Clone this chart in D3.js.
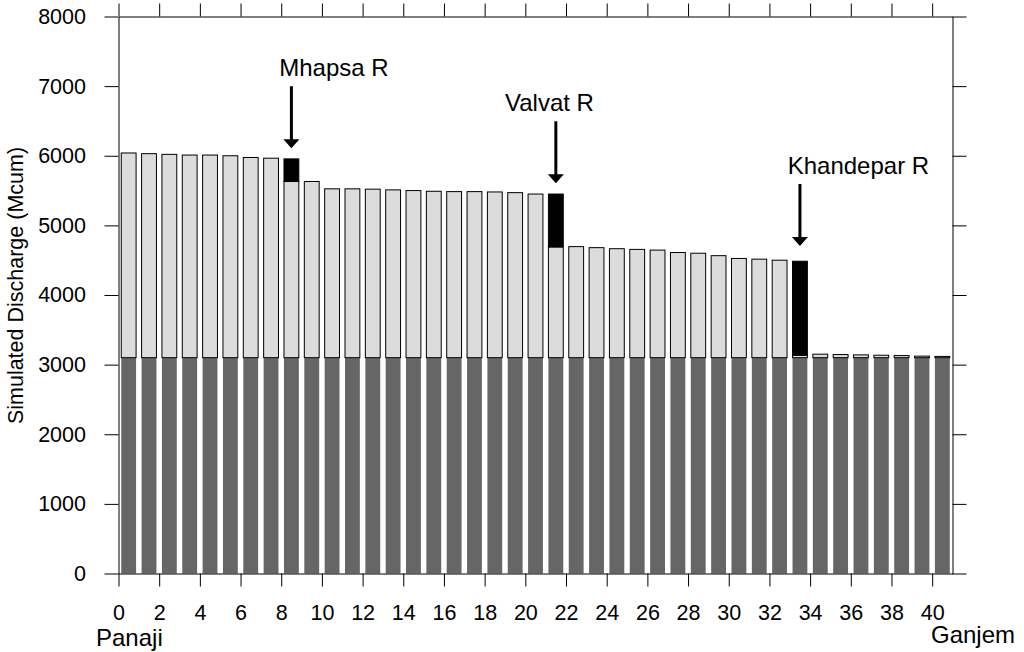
<!DOCTYPE html>
<html>
<head>
<meta charset="utf-8">
<script src="https://cdn.jsdelivr.net/npm/d3@7"></script>
<style>
  html, body { margin: 0; padding: 0; background: #fff; }
  svg { display: block; }
  text { font-family: "Liberation Sans", Arial, Helvetica, sans-serif; fill: #000; }
</style>
</head>
<body>
<svg id="chart" width="1024" height="652"></svg>
<script>
// Stations along the estuary, from Panaji (0) to Ganjem (40)
const stations = [0, 1, 2, 3, 4, 5, 6, 7, 8, 9, 10, 11, 12, 13, 14, 15, 16, 17, 18, 19, 20,
                  21, 22, 23, 24, 25, 26, 27, 28, 29, 30, 31, 32, 33, 34, 35, 36, 37, 38, 39, 40];

// Base discharge at every station (Mcum)
const baseFlow = [3100, 3100, 3100, 3100, 3100, 3100, 3100, 3100, 3100, 3100, 3100,
                  3100, 3100, 3100, 3100, 3100, 3100, 3100, 3100, 3100, 3100,
                  3100, 3100, 3100, 3100, 3100, 3100, 3100, 3100, 3100, 3100,
                  3100, 3100, 3100, 3100, 3100, 3100, 3100, 3100, 3100, 3100];

// Simulated discharge along the main stem (Mcum)
const mainFlow = [6040, 6030, 6020, 6010, 6010, 6000, 5975, 5965, 5630, 5630, 5525,
                  5525, 5520, 5510, 5500, 5490, 5485, 5485, 5480, 5470, 5450,
                  4690, 4695, 4680, 4665, 4655, 4645, 4610, 4600, 4565, 4525,
                  4515, 4500, 3135, 3150, 3145, 3140, 3135, 3130, 3122, 3118];

// Total discharge including tributary inflow, where a tributary joins (Mcum)
const tributaryTotal = [null, null, null, null, null, null, null, null, 5955, null, null,
                        null, null, null, null, null, null, null, null, null, null,
                        5450, null, null, null, null, null, null, null, null, null,
                        null, null, 4485, null, null, null, null, null, null, null];

// Tributary labels: station, arrow-tip discharge, label shift (stations)
const tributaryNames = ["Mhapsa R", "Valvat R", "Khandepar R"];
const tributaryStations = [8, 21, 33];
const arrowTips = [6108, 5605, 4704];
const labelShifts = [-0.6, -2.5, -0.6];

const xTicks = [0, 2, 4, 6, 8, 10, 12, 14, 16, 18, 20, 22, 24, 26, 28, 30, 32, 34, 36, 38, 40];
const yTicks = [0, 1000, 2000, 3000, 4000, 5000, 6000, 7000, 8000];

const svg = d3.select("#chart");
const plotLeft = 118.5, plotRight = 952.5, plotTop = 16.5, plotBottom = 573.5;

const x = d3.scaleLinear().domain([0, 41]).range([plotLeft, plotRight]);
const y = d3.scaleLinear().domain([0, 8000]).range([plotBottom, plotTop]);
const barW = x(0.73) - x(0);

const rows = stations.map((s, i) => ({
  s, base: baseFlow[i], main: mainFlow[i], trib: tributaryTotal[i]
}));

const bars = svg.append("g");

// dark base portion
bars.selectAll("rect.base").data(rows).join("rect")
  .attr("class", "base")
  .attr("x", d => x(d.s + 0.5) - barW / 2)
  .attr("width", barW)
  .attr("y", d => y(d.base))
  .attr("height", d => y(0) - y(d.base))
  .attr("fill", "#666666");

// light main-stem portion
bars.selectAll("rect.main").data(rows).join("rect")
  .attr("class", "main")
  .attr("x", d => x(d.s + 0.5) - barW / 2)
  .attr("width", barW)
  .attr("y", d => y(d.main))
  .attr("height", d => y(d.base) - y(d.main))
  .attr("fill", "#dcdcdc")
  .attr("stroke", "#000")
  .attr("stroke-width", 1);

// tributary inflow portion
bars.selectAll("rect.trib").data(rows.filter(d => d.trib != null)).join("rect")
  .attr("class", "trib")
  .attr("x", d => x(d.s + 0.5) - barW / 2)
  .attr("width", barW)
  .attr("y", d => y(d.trib))
  .attr("height", d => y(d.main) - y(d.trib))
  .attr("fill", "#000")
  .attr("stroke", "#000")
  .attr("stroke-width", 1);

// axes
function styleAxis(g) {
  g.selectAll("path.domain").attr("stroke", "#000").attr("stroke-width", 1);
  g.selectAll(".tick line").attr("stroke", "#000").attr("stroke-width", 1);
  g.selectAll(".tick text").attr("font-size", 21.5).attr("fill", "#000")
    .attr("font-family", "'Liberation Sans', Arial, sans-serif");
}

svg.append("g").attr("transform", `translate(0,${plotBottom})`)
  .call(d3.axisBottom(x).tickValues(xTicks).tickSize(13).tickSizeOuter(0)
    .tickPadding(18).tickFormat(d3.format("d")))
  .call(styleAxis);

svg.append("g").attr("transform", `translate(0,${plotTop})`)
  .call(d3.axisTop(x).tickValues(xTicks).tickSize(13).tickSizeOuter(0).tickFormat(""))
  .call(styleAxis);

svg.append("g").attr("transform", `translate(${plotLeft},0)`)
  .call(d3.axisLeft(y).tickValues(yTicks).tickSize(14).tickSizeOuter(0)
    .tickPadding(18.5).tickFormat(d3.format("d")))
  .call(styleAxis);

svg.append("g").attr("transform", `translate(${plotRight},0)`)
  .call(d3.axisRight(y).tickValues(yTicks).tickSize(14).tickSizeOuter(0).tickFormat(""))
  .call(styleAxis);

// axis title
svg.append("text")
  .attr("transform", `translate(23,${285.5}) rotate(-90)`)
  .attr("text-anchor", "middle")
  .attr("font-size", 21.5)
  .text("Simulated Discharge (Mcum)");

// end-point names
svg.append("text").attr("x", 96).attr("y", 646).attr("font-size", 24).text("Panaji");
svg.append("text").attr("x", 931).attr("y", 643).attr("font-size", 24).text("Ganjem");

// tributary arrows and labels
const shaftLen = 62, headW = 16, headH = 9;
const notes = svg.append("g");
tributaryNames.forEach((name, i) => {
  const cx = x(tributaryStations[i] + 0.5);
  const tipY = y(arrowTips[i]);
  const startY = tipY - shaftLen;
  notes.append("line")
    .attr("x1", cx).attr("x2", cx)
    .attr("y1", startY).attr("y2", tipY - headH + 1)
    .attr("stroke", "#000").attr("stroke-width", 3);
  notes.append("path")
    .attr("d", `M${cx - headW / 2},${tipY - headH}L${cx + headW / 2},${tipY - headH}L${cx},${tipY}Z`)
    .attr("fill", "#000");
  notes.append("text")
    .attr("x", x(tributaryStations[i] + 0.5 + labelShifts[i]))
    .attr("y", startY - 10)
    .attr("font-size", 24)
    .text(name);
});
</script>
</body>
</html>
